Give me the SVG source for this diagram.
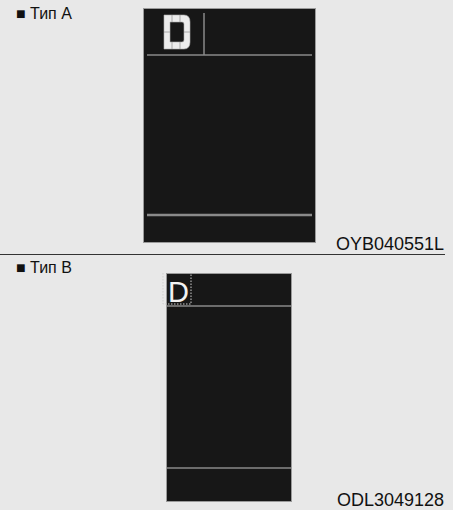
<svg xmlns="http://www.w3.org/2000/svg" width="453" height="510" viewBox="0 0 453 510">
<style>
.lbl{font-family:"Liberation Sans",Arial,sans-serif;font-size:16px;fill:#111}
.code{font-family:"Liberation Sans",Arial,sans-serif;font-size:18px;fill:#111}
.panel{fill:#171717;stroke:#9a9a9a;stroke-width:1}
.ln{stroke:#8a8a8a;stroke-width:1.5}
.seg{stroke:#9a9a9a;stroke-width:0.8}
</style>
<rect width="453" height="510" fill="#e8e8e8"/>
<g id="typeA">
<text class="lbl" x="16" y="19">■ Тип A</text>
<rect class="panel" x="143.5" y="8.5" width="172" height="234"/>
<line class="ln" x1="147" y1="55" x2="312" y2="55"/>
<line class="ln" x1="204" y1="13" x2="204" y2="55"/>
<line x1="147" y1="215" x2="312" y2="215" stroke="#8a8a8a" stroke-width="2.5"/>
<path d="M164,15 H184 Q190,15 190,22 V42 Q190,49 184,49 H164 Z M170,22 V42 H182 Q184,42 184,40 V24 Q184,22 182,22 Z" fill="#ececec" fill-rule="evenodd" stroke="#b0b0b0" stroke-width="0.6"/>
<line class="seg" x1="172" y1="15" x2="172" y2="22"/>
<line class="seg" x1="180" y1="15" x2="180" y2="22"/>
<line class="seg" x1="172" y1="42" x2="172" y2="49"/>
<line class="seg" x1="180" y1="42" x2="180" y2="49"/>
<line class="seg" x1="164" y1="32" x2="170" y2="32"/>
<line class="seg" x1="184" y1="32" x2="190" y2="32"/>
<text class="code" x="444" y="250" text-anchor="end">OYB040551L</text>
</g>
<line x1="0" y1="254.5" x2="445" y2="254.5" stroke="#333" stroke-width="1"/>
<g id="typeB">
<text class="lbl" x="16" y="273">■ Тип B</text>
<rect class="panel" x="166.5" y="273.5" width="125" height="228"/>
<line class="ln" x1="167" y1="306" x2="291" y2="306"/>
<line class="ln" x1="167" y1="468" x2="291" y2="468" stroke-width="2"/>
<path d="M163,273 V304 H191 V273" fill="none" stroke="#cfcfcf" stroke-width="1" stroke-dasharray="1.5,1.5"/>
<text x="168" y="302" font-family="Liberation Sans,Arial,sans-serif" font-size="29" fill="#f2f2f2">D</text>
<text class="code" x="444" y="506" text-anchor="end">ODL3049128</text>
</g>
</svg>
